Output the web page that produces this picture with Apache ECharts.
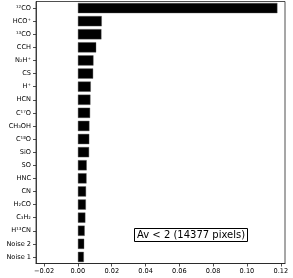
<!DOCTYPE html>
<html>
<head>
<meta charset="utf-8">
<script src="https://cdn.jsdelivr.net/npm/echarts@6/dist/echarts.min.js"></script>
<style>
html,body{margin:0;padding:0;background:#fff;}
#chart{width:293px;height:278px;}
</style>
</head>
<body>
<div id="chart"></div>
<script>
var categories = ['¹²CO','HCO⁺','¹³CO','CCH','N₂H⁺','CS','H⁺','HCN','C¹⁷O','CH₃OH','C¹⁸O','SiO','SO','HNC','CN','H₂CO','C₃H₂','H¹³CN','Noise 2','Noise 1'];
var values = [0.1180,0.0141,0.0139,0.0108,0.0092,0.0090,0.0076,0.0074,0.0072,0.0068,0.0067,0.0066,0.0052,0.0051,0.0048,0.0047,0.0044,0.0040,0.0037,0.0035];
var xTicks = [-0.02,0.00,0.02,0.04,0.06,0.08,0.10,0.12];
var annotation = 'Av < 2 (14377 pixels)';

var chart = echarts.init(document.getElementById('chart'), null, {renderer:'canvas'});
var font = 'DejaVu Sans';
chart.setOption({
  animation:false,
  backgroundColor:'#fff',
  grid:{left:36,right:8,top:1.5,bottom:14.5,show:true,borderColor:'#222',borderWidth:0.8,backgroundColor:'transparent'},
  title:{
    text:annotation,
    left:134, top:228,
    padding:[1,3,1,3],
    borderColor:'#000', borderWidth:1, backgroundColor:'#fff',
    textStyle:{fontFamily:font,fontSize:10,fontWeight:'normal',color:'#000',lineHeight:12}
  },
  xAxis:{
    type:'value', min:-0.0248, max:0.1225,
    splitLine:{show:false},
    axisLine:{show:true,onZero:false,lineStyle:{color:'#222',width:0.8}},
    axisTick:{show:true,length:3,inside:false,customValues:xTicks,lineStyle:{color:'#222',width:0.8}},
    axisLabel:{show:true,customValues:xTicks,margin:4,fontFamily:font,fontSize:6.6,color:'#000',
      formatter:function(v){return v.toFixed(2).replace('-','−');}}
  },
  yAxis:{
    type:'category', data:categories, inverse:true,
    axisLine:{show:true,onZero:false,lineStyle:{color:'#222',width:0.8}},
    axisTick:{show:true,length:3,alignWithLabel:true,lineStyle:{color:'#222',width:0.8}},
    axisLabel:{margin:5,fontFamily:font,fontSize:6.6,color:'#000',interval:0},
    splitLine:{show:false}
  },
  series:[{
    type:'bar', data:values, barCategoryGap:'22%',
    itemStyle:{color:'#000',borderColor:'#555',borderWidth:0.4}
  }]
});
</script>
</body>
</html>
